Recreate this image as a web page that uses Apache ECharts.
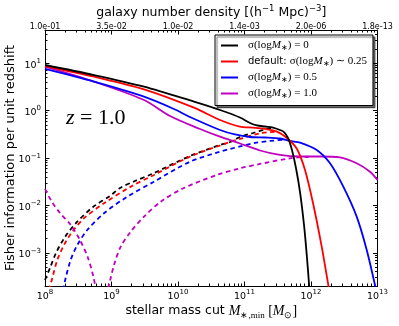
<!DOCTYPE html>
<html>
<head>
<meta charset="utf-8">
<script src="https://cdn.jsdelivr.net/npm/echarts@6/dist/echarts.min.js"></script>
<style>
  html, body { margin: 0; padding: 0; background: #fff; }
  #chart { width: 399px; height: 326px; }
</style>
</head>
<body>
<div id="chart"></div>
<script>
// curves, each point is [log10 M, log10 F]
const sig0Solid = [[8.000, 0.961], [8.737, 0.750], [9.489, 0.504], [10.241, 0.187], [10.632, 0.012],
  [10.932, -0.146], [11.083, -0.262], [11.188, -0.314], [11.308, -0.336], [11.429, -0.357],
  [11.534, -0.409], [11.594, -0.452], [11.654, -0.578], [11.714, -0.831], [11.774, -1.211],
  [11.835, -1.717], [11.895, -2.412], [11.940, -3.108], [11.977, -3.783]];
const sig25Solid = [[8.000, 0.940], [8.737, 0.714], [9.489, 0.449], [10.241, 0.061], [10.632, -0.199],
  [10.932, -0.340], [11.128, -0.361], [11.308, -0.388], [11.489, -0.445], [11.639, -0.578],
  [11.789, -0.810], [11.910, -1.253], [12.030, -1.949], [12.161, -2.870], [12.260, -3.677], [12.278, -3.825]];
const sig5Solid = [[8.000, 0.877], [8.737, 0.609], [9.489, 0.293], [9.940, 0.033], [10.180, -0.135],
  [10.632, -0.409], [10.857, -0.504], [11.083, -0.557], [11.308, -0.568], [11.534, -0.589],
  [11.684, -0.641], [11.835, -0.677], [12.086, -0.831], [12.286, -1.112], [12.486, -1.605],
  [12.687, -2.237], [12.838, -2.939], [12.962, -3.677], [13.000, -3.909]];
const sig10Solid = [[8.000, 0.925], [8.737, 0.609], [9.489, 0.223], [9.880, -0.114], [10.331, -0.388],
  [10.632, -0.551], [10.932, -0.694], [11.233, -0.842], [11.534, -0.936], [11.835, -0.968],
  [12.135, -0.968], [12.436, -0.985], [12.687, -1.111], [12.887, -1.289], [13.000, -1.464]];

const sig0Dash = [[8.000, -3.572], [8.075, -3.319], [8.165, -3.003], [8.301, -2.665], [8.481, -2.349],
  [8.722, -2.033], [8.977, -1.801], [9.128, -1.632], [9.353, -1.485], [9.609, -1.337], [10.180, -0.958],
  [10.632, -0.726], [10.782, -0.663], [10.932, -0.557], [11.128, -0.473], [11.308, -0.399], [11.429, -0.357]];
const sig25Dash = [[8.060, -3.783], [8.110, -3.530], [8.185, -3.150], [8.286, -2.834], [8.411, -2.554],
  [8.586, -2.271], [8.887, -1.955], [9.289, -1.605], [9.639, -1.358], [10.180, -0.972], [10.782, -0.662],
  [10.932, -0.599], [11.233, -0.479], [11.489, -0.445]];
const sig5Dash = [[8.271, -3.783], [8.311, -3.530], [8.386, -3.150], [8.486, -2.834], [8.636, -2.518],
  [8.887, -2.166], [9.238, -1.816], [9.639, -1.499], [10.180, -1.078], [10.632, -0.867], [10.782, -0.810],
  [10.932, -0.757], [11.158, -0.683], [11.383, -0.641], [11.609, -0.610]];
const sig10DashLow = [[8.000, -1.653], [8.105, -1.927], [8.226, -2.159], [8.376, -2.391], [8.526, -2.729],
  [8.647, -3.108], [8.729, -3.509], [8.782, -3.909]];
const sig10DashHigh = [[8.917, -3.909], [8.977, -3.593], [9.038, -3.256], [9.138, -2.870], [9.289, -2.554],
  [9.489, -2.237], [9.740, -1.921], [10.080, -1.639], [10.582, -1.358], [10.932, -1.217], [11.233, -1.126],
  [11.684, -1.006], [11.985, -0.972]];

// number density labels on the top axis, one per decade of mass 1e8..1e13
const topTickLabels = ['1.0e-01', '3.5e-02', '1.0e-02', '1.4e-03', '2.0e-06', '1.8e-13'];

const legendNames = ['s0', 's25', 's5', 's10'];
const legendText = {
  s0: '{n|σ(log}{i|M}{s|∗}{n|) = 0}',
  s25: '{d|default: }{n|σ(log}{i|M}{s|∗}{n|) ∼ 0.25}',
  s5: '{n|σ(log}{i|M}{s|∗}{n|) = 0.5}',
  s10: '{n|σ(log}{i|M}{s|∗}{n|) = 1.0}'
};

const X_MIN = 1e8, X_MAX = 1e13, Y_MIN = 2e-4, Y_MAX = 50;

const toValues = arr => arr.map(p => [Math.pow(10, p[0]), Math.pow(10, p[1])]);

function minorTicks(lo, hi) {
  let out = [];
  for (let d = Math.floor(lo); d < Math.ceil(hi); d++) {
    for (let k = 2; k < 10; k++) {
      let v = d + Math.log10(k);
      if (v > lo && v < hi) out.push(v);
    }
  }
  return out;
}

function isDecade(v) {
  let l = Math.log10(v);
  return Math.abs(l - Math.round(l)) < 1e-6;
}

function powLabel(v) {
  if (!isDecade(v)) return '';
  let e = Math.round(Math.log10(v));
  return '{b|10}{p|' + String(e).replace('-', '\u2212') + '}';
}

const powRich = {
  b: { fontFamily: 'DejaVu Sans', fontSize: 9.5, color: '#000', lineHeight: 15 },
  p: { fontFamily: 'DejaVu Sans', fontSize: 7, color: '#000', verticalAlign: 'top', lineHeight: 9 }
};

const serif = 'Liberation Serif';

function line(name, data, color, dashed, z) {
  return {
    name: name,
    type: 'line',
    data: toValues(data),
    symbol: 'none',
    smooth: 0.3,
    clip: true,
    z: z,
    silent: true,
    itemStyle: { color: color },
    lineStyle: { color: color, width: 1.8, type: dashed ? [4.5, 3.5] : 'solid', cap: 'butt' }
  };
}

const black = '#000000', red = '#ff0000', blue = '#0000ff', magenta = '#bf00bf';

const axisLineStyle = { show: true, onZero: false, lineStyle: { color: '#000', width: 1 } };
const hiddenLine = { show: false, onZero: false };

const option = {
  animation: false,
  backgroundColor: '#fff',
  textStyle: { fontFamily: 'DejaVu Sans' },
  grid: { left: 45, right: 21.5, top: 30, bottom: 40, containLabel: false, outerBoundsMode: 'none' },
  xAxis: [
    {
      type: 'log', logBase: 10, min: X_MIN, max: X_MAX, position: 'bottom',
      axisLine: axisLineStyle,
      axisTick: { inside: true, length: 4.5, lineStyle: { color: '#000' } },
      splitLine: { show: false },
      axisLabel: { margin: 3, formatter: powLabel, rich: powRich },
      name: '{t|stellar mass cut }{i|M}{s|∗,min}{n| [}{i|M}{s|⊙}{n|]}',
      nameLocation: 'middle', nameGap: 16, nameMoveOverlap: false,
      nameTextStyle: {
        rich: {
          t: { fontFamily: 'DejaVu Sans', fontSize: 12.5, color: '#000', lineHeight: 18 },
          i: { fontFamily: serif, fontStyle: 'italic', fontSize: 14, color: '#000', lineHeight: 18 },
          n: { fontFamily: serif, fontSize: 14, color: '#000', lineHeight: 18 },
          s: { fontFamily: serif, fontSize: 9, color: '#000', verticalAlign: 'bottom', lineHeight: 12 }
        }
      }
    },
    {
      type: 'log', logBase: 10, min: X_MIN, max: X_MAX, position: 'top',
      axisLine: axisLineStyle,
      axisTick: { inside: true, length: 4.5, lineStyle: { color: '#000' } },
      splitLine: { show: false },
      axisLabel: {
        margin: -1.5, fontSize: 8, lineHeight: 9, color: '#000', fontFamily: 'DejaVu Sans',
        formatter: v => isDecade(v) ? topTickLabels[Math.round(Math.log10(v)) - 8] : ''
      },
      name: '{t|galaxy number density [(h}{p|\u22121}{t| Mpc)}{p|\u22123}{t|]}',
      nameLocation: 'middle', nameGap: 8, nameMoveOverlap: false,
      nameTextStyle: {
        rich: {
          t: { fontFamily: 'DejaVu Sans', fontSize: 12.5, color: '#000', lineHeight: 18 },
          p: { fontFamily: 'DejaVu Sans', fontSize: 8.5, color: '#000', verticalAlign: 'top', lineHeight: 10 }
        }
      }
    },
    {
      type: 'value', min: 8, max: 13, position: 'bottom',
      axisLine: hiddenLine, axisLabel: { show: false }, splitLine: { show: false },
      axisTick: { inside: true, length: 2.5, customValues: minorTicks(8, 13), lineStyle: { color: '#000' } }
    },
    {
      type: 'value', min: 8, max: 13, position: 'top',
      axisLine: hiddenLine, axisLabel: { show: false }, splitLine: { show: false },
      axisTick: { inside: true, length: 2.5, customValues: minorTicks(8, 13), lineStyle: { color: '#000' } }
    }
  ],
  yAxis: [
    {
      type: 'log', logBase: 10, min: Y_MIN, max: Y_MAX, position: 'left',
      axisLine: axisLineStyle,
      axisTick: { inside: true, length: 4.5, lineStyle: { color: '#000' } },
      splitLine: { show: false },
      axisLabel: { margin: 4, padding: [4, 0, 0, 0], formatter: powLabel, rich: powRich },
      name: 'Fisher information per unit redshift',
      nameLocation: 'middle', nameGap: 28, nameRotate: 90, nameMoveOverlap: false,
      nameTextStyle: { fontFamily: 'DejaVu Sans', fontSize: 13, color: '#000' }
    },
    {
      type: 'log', logBase: 10, min: Y_MIN, max: Y_MAX, position: 'right',
      axisLine: axisLineStyle,
      axisTick: { inside: true, length: 4.5, lineStyle: { color: '#000' } },
      splitLine: { show: false },
      axisLabel: { show: false }
    },
    {
      type: 'value', min: Math.log10(Y_MIN), max: Math.log10(Y_MAX), position: 'left',
      axisLine: hiddenLine, axisLabel: { show: false }, splitLine: { show: false },
      axisTick: { inside: true, length: 2.5, customValues: minorTicks(Math.log10(Y_MIN), Math.log10(Y_MAX)), lineStyle: { color: '#000' } }
    },
    {
      type: 'value', min: Math.log10(Y_MIN), max: Math.log10(Y_MAX), position: 'right',
      axisLine: hiddenLine, axisLabel: { show: false }, splitLine: { show: false },
      axisTick: { inside: true, length: 2.5, customValues: minorTicks(Math.log10(Y_MIN), Math.log10(Y_MAX)), lineStyle: { color: '#000' } }
    }
  ],
  legend: {
    orient: 'vertical', left: 215, top: 35,
    data: legendNames,
    selectedMode: false,
    icon: 'rect',
    itemWidth: 17, itemHeight: 2, itemGap: 3.5,
    padding: [5, 6, 5, 6],
    backgroundColor: '#fff', borderColor: '#000', borderWidth: 1, borderRadius: 0,
    shadowColor: 'rgba(0,0,0,0.55)', shadowBlur: 1, shadowOffsetX: 2, shadowOffsetY: 2,
    formatter: name => legendText[name],
    textStyle: {
      padding: [0, 0, 0, 5],
      rich: {
        n: { fontFamily: serif, fontSize: 11, color: '#000', lineHeight: 14 },
        i: { fontFamily: serif, fontStyle: 'italic', fontSize: 11, color: '#000', lineHeight: 14 },
        s: { fontFamily: serif, fontSize: 7.5, color: '#000', verticalAlign: 'bottom', lineHeight: 10 },
        d: { fontFamily: 'DejaVu Sans', fontSize: 10, color: '#000', lineHeight: 14 }
      }
    }
  },
  graphic: [{
    type: 'text', left: 66, top: 107, z: 100,
    style: {
      text: '{i|z}{n| = 1.0}',
      rich: {
        i: { fontFamily: serif, fontStyle: 'italic', fontSize: 22, fill: '#000' },
        n: { fontFamily: serif, fontSize: 22, fill: '#000' }
      }
    }
  }],
  series: [
    line('d0', sig0Dash, black, true, 2),
    line('d25', sig25Dash, red, true, 2),
    line('d5', sig5Dash, blue, true, 2),
    line('d10a', sig10DashLow, magenta, true, 2),
    line('d10b', sig10DashHigh, magenta, true, 2),
    line('s10', sig10Solid, magenta, false, 3),
    line('s5', sig5Solid, blue, false, 3),
    line('s25', sig25Solid, red, false, 3),
    line('s0', sig0Solid, black, false, 3)
  ]
};

let chart = echarts.init(document.getElementById('chart'));
chart.setOption(option);
</script>
</body>
</html>
